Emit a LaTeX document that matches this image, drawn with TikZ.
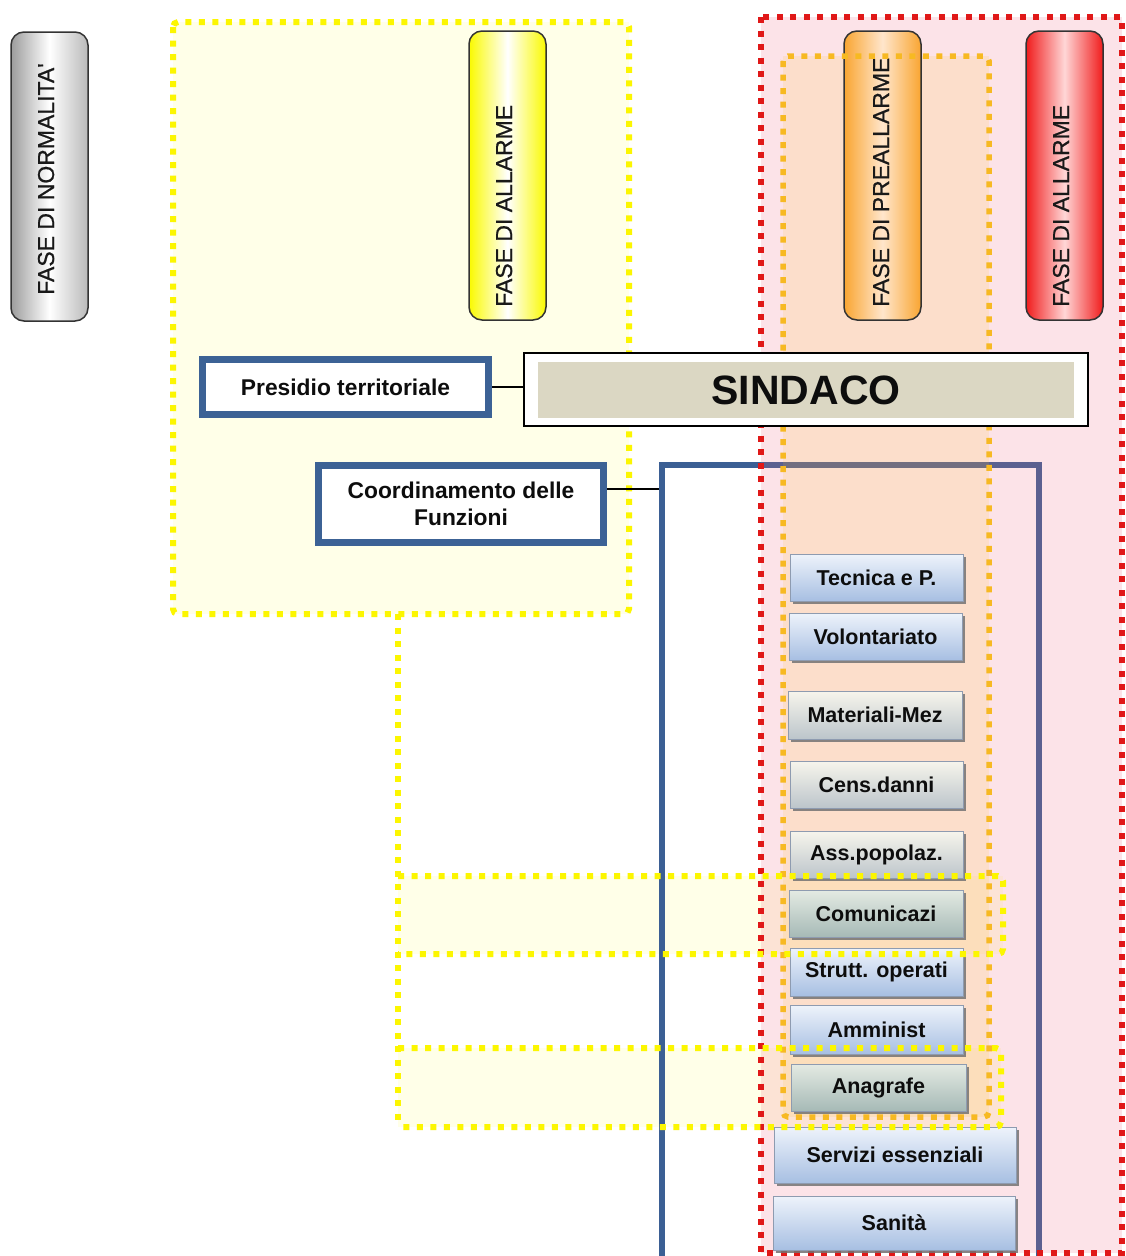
\documentclass[tikz,border=0pt]{standalone}
\usepackage{fontspec}
\setmainfont{Liberation Sans}
\newfontfamily\phasefont[FakeBold=0.7]{Liberation Sans}
\usetikzlibrary{shadows}

\definecolor{yellowzone}{HTML}{FFFFE8}
\definecolor{redzone}{HTML}{F06980}
\definecolor{orangezone}{HTML}{FCC228}
\definecolor{ydot}{HTML}{FCF600}
\definecolor{rdot}{HTML}{E01818}
\definecolor{odot}{HTML}{F7B922}
\definecolor{framecol}{HTML}{3B5F94}
\definecolor{boxblue}{HTML}{3C6295}
\definecolor{sindtan}{HTML}{DBD7C3}
\definecolor{fnedge}{HTML}{8E9BB0}
\definecolor{fnbluetop}{HTML}{EEF3FB}
\definecolor{fnbluebot}{HTML}{A7BFE2}
\definecolor{fngraytop}{HTML}{F7F5EC}
\definecolor{fngraybot}{HTML}{BCC5CB}
\definecolor{fngreentop}{HTML}{E4EAE3}
\definecolor{fngreenbot}{HTML}{A6BAB6}
\definecolor{silveredge}{HTML}{9C9C9C}
\definecolor{phyellow}{HTML}{FAFA00}
\definecolor{phorange}{HTML}{F9A531}
\definecolor{phorangemid}{HTML}{FFE6CC}
\definecolor{phred}{HTML}{F01C1C}
\definecolor{phredmid}{HTML}{FFD6D6}

\begin{document}
\begin{tikzpicture}[x=1pt,y=-1pt,
  ydots/.style={draw=ydot, line width=6pt, dash pattern=on 6pt off 7.5pt, rounded corners=5pt},
  rdots/.style={draw=rdot, line width=5.5pt, dash pattern=on 6pt off 7.5pt},
  odots/.style={draw=odot, line width=5.5pt, dash pattern=on 6pt off 7.5pt, rounded corners=5pt},
  phasebox/.style={rounded corners=13pt, draw=black!80, line width=1.5pt,
    minimum width=77pt, minimum height=289pt, inner sep=0pt},
  phaselabel/.style={rotate=90, anchor=base west, inner sep=0pt,
    font=\phasefont\fontsize{23}{26}\selectfont, text=black!90},
  bluebox/.style={draw=boxblue, line width=7pt, fill=white, inner sep=0pt,
    font=\bfseries\fontsize{22.8}{27}\selectfont, text=black!95, align=center},
  conn/.style={draw=black, line width=1.2pt},
  fnbox/.style={draw=fnedge, line width=0.8pt, inner sep=0pt,
    font=\bfseries\fontsize{21.5}{24}\selectfont, text=black!95,
    drop shadow={shadow xshift=3pt, shadow yshift=-3pt, fill=black!55, opacity=0.85}},
  fnblue/.style={fnbox, top color=fnbluetop, bottom color=fnbluebot},
  fngray/.style={fnbox, top color=fngraytop, bottom color=fngraybot},
  fngreen/.style={fnbox, top color=fngreentop, bottom color=fngreenbot}
]
\useasboundingbox (0,0) rectangle (1125,1256);
\fill[white] (0,0) rectangle (1125,1256);

% light yellow zones of the alarm phase
\fill[yellowzone] (173,22) rectangle (629,614);
\fill[yellowzone] (398,876) rectangle (1003,954);
\fill[yellowzone] (398,1048) rectangle (1001,1127);

% frame grouping the support functions
\node[draw=framecol, line width=6pt, minimum width=377pt, minimum height=797pt, inner sep=0pt]
  (funzioni) at (850,863.5) {};

% red and orange zones (translucent)
\fill[redzone, fill opacity=0.18] (761,17) rectangle (1122,1253);
\fill[orangezone, fill opacity=0.15] (783,56) rectangle (989,1117);
\draw[rdots] (761,17) rectangle (1122,1253);

% phase headers
\node[phasebox, left color=silveredge, right color=silveredge!70, middle color=white]
  (normal) at (49.5,176.5) {};
\node[phaselabel] (normaltxt) at (54,295) {FASE DI NORMALITA'};
\node[phasebox, left color=phyellow, right color=phyellow, middle color=white]
  (allyellow) at (507.5,175.5) {};
\node[phaselabel] (allyellowtxt) at (512,307) {FASE DI ALLARME};
\node[phasebox, left color=phorange, right color=phorange, middle color=phorangemid]
  (preall) at (882.5,175.5) {};
\node[phaselabel] (prealltxt) at (889,307) {FASE DI PREALLARME};
\node[phasebox, left color=phred, right color=phred, middle color=phredmid]
  (allred) at (1064.5,175.5) {};
\node[phaselabel] (allredtxt) at (1069,307) {FASE DI ALLARME};

\draw[odots] (783,56) rectangle (989,1117);
\draw[ydots] (173,22) rectangle (629,614);

% command structure
\node[bluebox, minimum width=286pt, minimum height=55pt] (pres) at (345.5,387) {Presidio territoriale};
\node[draw=black, line width=1.2pt, fill=white, minimum width=564pt, minimum height=73pt, inner sep=0pt]
  (sindaco) at (806,389.5) {};
\node[fill=sindtan, minimum width=536pt, minimum height=56pt, inner sep=0pt,
  font=\bfseries\fontsize{41}{43}\selectfont, text=black!95] (sindacolbl) at (806,390) {SINDACO};
\node[bluebox, minimum width=285pt, minimum height=77pt] (coord) at (461,504)
  {Coordinamento delle\\Funzioni};

\draw[conn] (pres.east) -- (pres.east -| sindaco.west);
\draw[conn] ([yshift=15pt]coord.east) -- ([yshift=15pt]coord.east -| funzioni.west);

% support functions
\node[fnblue, minimum width=173pt, minimum height=47pt] (f1) at (876.5,577.5) {Tecnica e P.};
\node[fnblue, minimum width=173pt, minimum height=47pt] (f2) at (875.5,636.5) {Volontariato};
\node[fngray, minimum width=174pt, minimum height=48pt] (f3) at (875,715) {Materiali-Mez};
\node[fngray, minimum width=173pt, minimum height=47pt] (f4) at (876.5,784.5) {Cens.danni};
\node[fngray, minimum width=173pt, minimum height=47pt] (f5) at (876.5,854.5) {Ass.popolaz.};
\node[fngreen, minimum width=174pt, minimum height=47pt] (f6) at (876,913.5) {Comunicazi\hspace{22pt}};
\node[fnblue, minimum width=173pt, minimum height=48pt] (f7) at (876.5,972) {Strutt. operati};
\node[fnblue, minimum width=173pt, minimum height=49pt] (f8) at (876.5,1029.5) {Amminist};
\node[fngreen, minimum width=175pt, minimum height=47pt] (f9) at (878.5,1087.5) {Anagrafe};
\node[fnblue, minimum width=242pt, minimum height=56pt] (f10) at (895,1155) {Servizi essenziali};
\node[fnblue, minimum width=242pt, minimum height=54pt] (f11) at (894,1223) {Sanità};

% yellow links to the functions shared with the alarm phase
\draw[ydots] (398,614) -- (398,1127);
\draw[ydots] (398,876) -- (1003,876) -- (1003,954) -- (398,954);
\draw[ydots] (398,1048) -- (1001,1048) -- (1001,1127) -- (398,1127);
\end{tikzpicture}
\end{document}
